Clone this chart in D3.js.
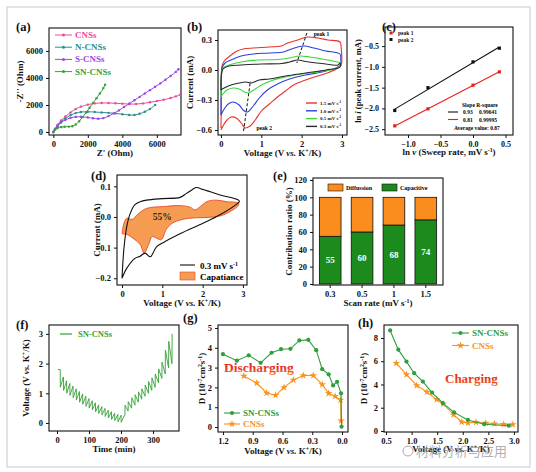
<!DOCTYPE html>
<html>
<head>
<meta charset="utf-8">
<script src="https://cdn.jsdelivr.net/npm/d3@7"></script>
<style>
body { margin: 0; background: #fff; }
svg text { font-family: "Liberation Serif", "DejaVu Serif", serif; font-weight: bold; }
</style>
</head>
<body>
<script>
// ---------- data ----------
// (a) Nyquist plots  [Z', -Z'']
const nyqCNS = [[0,0],[100,250],[250,550],[450,850],[700,1150],[1000,1450],[1300,1700],[1600,1880],[2000,2030],[2400,2120],[2800,2150],[3200,2150],[3600,2130],[4000,2100],[4400,2070],[4800,2070],[5200,2120],[5600,2200],[6000,2290],[6400,2390],[6800,2520],[7100,2640],[7350,2760]];
const nyqN = [[0,0],[100,200],[250,450],[450,750],[700,1000],[1000,1250],[1300,1400],[1600,1480],[2000,1500],[2400,1480],[2800,1450],[3200,1420],[3600,1380],[4000,1320],[4400,1260],[4700,1260],[5000,1350],[5300,1500],[5600,1700],[5900,2000]];
const nyqS = [[0,0],[100,200],[250,450],[450,700],[700,900],[1000,1050],[1300,1120],[1600,1130],[2000,1080],[2300,1020],[2600,980],[2900,1030],[3200,1180],[3500,1380],[3800,1600],[4100,1850],[4400,2100],[4700,2350],[5000,2600],[5300,2850],[5600,3100],[5900,3350],[6200,3600],[6500,3870],[6800,4150],[7100,4450],[7250,4650]];
const nyqSN = [[0,0],[100,180],[250,300],[450,370],[650,390],[900,400],[1100,430],[1300,560],[1500,800],[1700,1100],[1900,1450],[2100,1800],[2300,2150],[2500,2500],[2700,2850],[2900,3250],[3000,3500]];
const nyqNames = ["CNSs", "N-CNSs", "S-CNSs", "SN-CNSs"];

// (b) CV loops [V, mA]
const cv15 = [[0,-0.58],[0.01,-0.2],[0.02,0.03],[0.08,0.09],[0.22,0.14],[0.4,0.19],[0.55,0.21],[0.8,0.22],[1.2,0.23],[1.5,0.24],[1.65,0.27],[1.9,0.3],[2.15,0.33],[2.4,0.32],[2.65,0.3],[2.95,0.28],[2.98,0.22],[2.98,0.05],[2.9,0.02],[2.7,-0.02],[2.4,-0.06],[2.1,-0.1],[1.8,-0.15],[1.6,-0.21],[1.4,-0.27],[1.2,-0.34],[1.0,-0.41],[0.85,-0.5],[0.72,-0.56],[0.6,-0.58],[0.5,-0.53],[0.38,-0.48],[0.25,-0.47],[0.15,-0.5],[0.05,-0.56],[0,-0.6]];
const cv10 = [[0,-0.45],[0.01,-0.1],[0.03,0.02],[0.1,0.07],[0.25,0.1],[0.5,0.14],[0.8,0.16],[1.2,0.17],[1.55,0.18],[1.75,0.21],[2.05,0.24],[2.3,0.22],[2.6,0.19],[2.95,0.16],[2.97,0.1],[2.97,0.05],[2.85,0.02],[2.5,-0.02],[2.1,-0.05],[1.7,-0.09],[1.4,-0.14],[1.15,-0.2],[0.95,-0.28],[0.8,-0.36],[0.65,-0.42],[0.55,-0.4],[0.45,-0.35],[0.3,-0.32],[0.18,-0.34],[0.08,-0.39],[0,-0.45]];
const cv05 = [[0,-0.27],[0.01,-0.05],[0.05,0.02],[0.2,0.05],[0.5,0.08],[0.9,0.1],[1.4,0.105],[1.7,0.12],[1.95,0.14],[2.2,0.13],[2.5,0.11],[2.9,0.08],[2.96,0.07],[2.96,0.04],[2.8,0.01],[2.4,-0.02],[2.0,-0.04],[1.6,-0.07],[1.3,-0.1],[1.05,-0.14],[0.85,-0.19],[0.68,-0.23],[0.58,-0.22],[0.45,-0.19],[0.3,-0.18],[0.15,-0.2],[0.05,-0.24],[0,-0.27]];
const cv03 = [[0,-0.2],[0.01,-0.05],[0.05,0.01],[0.2,0.04],[0.5,0.05],[1.0,0.06],[1.5,0.065],[1.7,0.08],[1.9,0.1],[2.1,0.085],[2.5,0.065],[2.9,0.05],[2.95,0.07],[2.95,0.03],[2.6,0.0],[2.1,-0.03],[1.6,-0.06],[1.2,-0.09],[0.95,-0.1],[0.75,-0.13],[0.62,-0.12],[0.45,-0.13],[0.25,-0.15],[0.08,-0.18],[0,-0.2]];
const cvRates = ["1.5", "1.0", "0.5", "0.3"];
const peak1Guide = [[2.13,0.37],[1.88,0.07]];
const peak2Guide = [[0.56,-0.61],[0.73,-0.11]];

// (c) ln i vs ln v
const lnRate = [-1.204, -0.693, 0, 0.405];
const lnPeak1 = [-2.42, -2.01, -1.44, -1.12];
const lnPeak2 = [-2.05, -1.50, -0.88, -0.55];

// (d) CV at 0.3 mV/s and capacitive region
const cvD = [[0,-0.2],[0.05,-0.1],[0.12,-0.03],[0.2,0.01],[0.32,0.04],[0.45,0.05],[0.61,0.055],[1.0,0.06],[1.44,0.064],[1.6,0.077],[1.75,0.09],[1.85,0.096],[2.0,0.09],[2.1,0.086],[2.43,0.072],[2.89,0.055],[2.91,0.05],[2.89,0.047],[2.43,0.007],[2.02,-0.02],[1.44,-0.055],[1.03,-0.083],[0.86,-0.097],[0.78,-0.115],[0.7,-0.13],[0.57,-0.118],[0.45,-0.128],[0.32,-0.135],[0.12,-0.167],[0,-0.2]];
const capUpper = [[0,-0.055],[0.05,-0.02],[0.12,-0.004],[0.25,-0.008],[0.4,0.01],[0.61,0.028],[1.03,0.034],[1.44,0.037],[1.69,0.032],[1.81,0.023],[1.95,0.035],[2.1,0.05],[2.3,0.055],[2.6,0.05],[2.89,0.045]];
const capLower = [[2.89,0.038],[2.52,0.007],[2.27,0.0],[1.69,-0.004],[1.44,-0.01],[1.25,-0.02],[1.1,-0.04],[0.98,-0.074],[0.9,-0.072],[0.75,-0.064],[0.66,-0.09],[0.55,-0.118],[0.45,-0.09],[0.3,-0.072],[0.12,-0.057],[0,-0.055]];

// (e) contribution ratio
const scanRates = ["0.3", "0.5", "1", "1.5"];
const capacitive = [55, 60, 68, 74];
const diffusion = [45, 40, 32, 26];

// (f) GITT curve [min, V]
const gitt = [[3,1.8],[10,1.8],[10.5,1.2],[20,1.55],[20.5,1.1],[30,1.42],[30.5,1.0],[40,1.33],[40.5,0.93],[50,1.24],[50.5,0.85],[60,1.15],[60.5,0.77],[70,1.06],[70.5,0.7],[80,0.98],[80.5,0.63],[90,0.9],[90.5,0.56],[100,0.82],[100.5,0.5],[110,0.75],[110.5,0.44],[120,0.68],[120.5,0.38],[130,0.61],[130.5,0.32],[140,0.55],[140.5,0.27],[150,0.49],[150.5,0.22],[160,0.43],[160.5,0.17],[170,0.38],[170.5,0.12],[180,0.33],[180.5,0.08],[190,0.29],[190.5,0.04],[200,0.26],[200.5,0.02],[210,0.25],[212,0.25],[212.5,0.6],[222,0.4],[222.5,0.72],[233,0.5],[233.5,0.85],[243.5,0.6],[244,0.95],[254,0.7],[254.5,1.05],[264.5,0.8],[265,1.15],[275,0.9],[275.5,1.28],[285.5,1.0],[286,1.4],[296,1.1],[296.5,1.52],[306.5,1.2],[307,1.65],[317,1.35],[317.5,1.82],[327.5,1.5],[328,2.05],[338,1.65],[338.5,2.45],[348.5,1.85],[349,2.75],[359,2.0],[359.5,3.0]];

// (g) diffusion coefficient, discharging
const gVoltSN = [1.2, 1.06, 0.94, 0.82, 0.71, 0.615, 0.52, 0.43, 0.34, 0.26, 0.2, 0.135, 0.09, 0.05, 0.01, 0.005];
const gDSN = [3.68, 3.35, 3.62, 3.24, 3.75, 3.93, 3.95, 4.37, 4.4, 3.88, 2.92, 2.66, 2.1, 2.28, 1.7, 0.02];
const gVoltC = [0.99, 0.86, 0.76, 0.67, 0.585, 0.49, 0.39, 0.29, 0.2, 0.135, 0.07, 0.015, 0.01];
const gDC = [2.58, 2.22, 1.72, 1.6, 2.0, 2.37, 2.6, 2.6, 2.15, 1.7, 1.55, 1.37, 0.32];

// (h) diffusion coefficient, charging
const hVoltSN = [0.58, 0.74, 0.9, 1.05, 1.22, 1.4, 1.61, 1.83, 2.1, 2.42, 2.9];
const hDSN = [8.65, 7.0, 5.97, 4.97, 4.25, 3.3, 2.4, 1.6, 0.95, 0.58, 0.45];
const hVoltC = [0.7, 0.9, 1.1, 1.3, 1.49, 1.62, 1.82, 1.98, 2.1, 2.26, 2.45, 2.62, 2.8, 2.98];
const hDC = [5.83, 4.85, 3.92, 3.35, 2.7, 2.33, 1.4, 0.78, 0.68, 0.75, 0.68, 0.62, 0.58, 0.55];

// ---------- drawing ----------
const svg = d3.select("body").append("svg").attr("width", 536).attr("height", 472);

svg.append("rect").attr("x", 7).attr("y", 7).attr("width", 523).attr("height", 460)
   .attr("fill", "none").attr("stroke", "#c8c8c8");

const GREEN = "#2f9e3c", ORANGE = "#f7941d";
const f1 = d3.format(".1f");

// rich text: parts = [[text, style]]
function rich(sel, parts) {
  parts.forEach(p => {
    const t = sel.append("tspan").text(p[0]);
    if (p[1] === "i") t.style("font-style", "italic");
    if (p[1] === "sup") t.attr("baseline-shift", "super").style("font-size", "65%");
  });
  return sel;
}
const vsLabel = [["Voltage (V "], ["vs.", "i"], [" K"], ["+", "sup"], ["/K)"]];
const dLabel = [["D (10"], ["-7", "sup"], ["cm"], ["2", "sup"], ["s"], ["-1", "sup"], [")"]];

function frame(box, x, y, o) {
  const ax = o.band ? d3.axisBottom(x).tickSize(3).tickSizeOuter(0)
                    : d3.axisBottom(x).tickValues(o.xt).tickFormat(o.xf || d3.format("d")).tickSize(3).tickSizeOuter(0);
  const gx = svg.append("g").attr("transform", `translate(0,${box.y1})`).call(ax);
  const gy = svg.append("g").attr("transform", `translate(${box.x0},0)`)
    .call(d3.axisLeft(y).tickValues(o.yt).tickFormat(o.yf || d3.format("d")).tickSize(3).tickSizeOuter(0));
  [gx, gy].forEach(g => {
    g.select(".domain").remove();
    g.selectAll("text").attr("font-size", o.tf || 8.5).attr("fill", "#111");
    g.selectAll("line").attr("stroke", "#111");
  });
  svg.append("rect").attr("x", box.x0).attr("y", box.y0)
     .attr("width", box.x1 - box.x0).attr("height", box.y1 - box.y0)
     .attr("fill", "none").attr("stroke", "#111").attr("stroke-width", 1.1);
  // titles
  const xt = svg.append("text").attr("x", (box.x0 + box.x1) / 2).attr("y", o.xly)
     .attr("text-anchor", "middle").attr("font-size", 9).attr("fill", "#111");
  rich(xt, o.xl);
  const yt = svg.append("text").attr("transform", `translate(${o.ylx},${(box.y0 + box.y1) / 2}) rotate(-90)`)
     .attr("text-anchor", "middle").attr("font-size", o.ylf || 9).attr("fill", "#111");
  rich(yt, o.yl);
  svg.append("text").attr("x", o.lab[0]).attr("y", o.lab[1]).attr("font-size", 12.5)
     .attr("fill", "#111").text(o.lab[2]);
}

const line = (x, y) => d3.line().x(d => x(d[0])).y(d => y(d[1]));

// ----- (a)
const A = {x0: 49, x1: 181, y0: 28, y1: 135};
const xa = d3.scaleLinear().domain([-250, 7400]).range([A.x0, A.x1]);
const ya = d3.scaleLinear().domain([-220, 7700]).range([A.y1, A.y0]);
frame(A, xa, ya, {xt: [0, 2000, 4000, 6000], yt: [0, 2000, 4000, 6000],
  xl: [["Z' (Ohm)"]], xly: 156, yl: [["-Z'' (Ohm)"]], ylx: 23, lab: [16, 31, "(a)"]});
const nyqSets = [nyqCNS, nyqN, nyqS, nyqSN];
const nyqColors = ["#ec4a9c", "#2b8f8f", "#9d44e6", "#38a03a"];
nyqSets.forEach((s, i) => {
  svg.append("path").datum(s).attr("d", line(xa, ya).curve(d3.curveCatmullRom))
     .attr("fill", "none").attr("stroke", nyqColors[i]).attr("stroke-width", 1);
  svg.append("g").selectAll("circle").data(s).join("circle")
     .attr("cx", d => xa(d[0])).attr("cy", d => ya(d[1])).attr("r", 1.2).attr("fill", nyqColors[i]);
});
nyqNames.forEach((n, i) => {
  const yy = 35 + i * 12.2;
  svg.append("line").attr("x1", 55).attr("x2", 72).attr("y1", yy).attr("y2", yy)
     .attr("stroke", nyqColors[i]).attr("stroke-width", 1);
  svg.append("circle").attr("cx", 63.5).attr("cy", yy).attr("r", 1.5).attr("fill", nyqColors[i]);
  svg.append("text").attr("x", 75).attr("y", yy + 3).attr("font-size", 9)
     .attr("fill", nyqColors[i]).text(n);
});

// ----- (b)
const B = {x0: 218, x1: 347, y0: 30, y1: 135};
const xb = d3.scaleLinear().domain([-0.074, 3.124]).range([B.x0, B.x1]);
const yb = d3.scaleLinear().domain([-0.65, 0.4]).range([B.y1, B.y0]);
frame(B, xb, yb, {xt: [0, 1, 2, 3], yt: [-0.6, -0.3, 0, 0.3], yf: f1,
  xl: vsLabel, xly: 156, yl: [["Current (mA)"]], ylx: 193, lab: [187, 31, "(b)"]});
const cvSets = [cv15, cv10, cv05, cv03];
const cvColors = ["#e8322c", "#2a3fdc", "#3cd63c", "#2a2a2a"];
cvSets.forEach((s, i) => {
  svg.append("path").datum(s).attr("d", line(xb, yb).curve(d3.curveCatmullRom.alpha(0.5)))
     .attr("fill", "none").attr("stroke", cvColors[i]).attr("stroke-width", 1.1);
});
[peak1Guide, peak2Guide].forEach(g => {
  svg.append("path").datum(g).attr("d", line(xb, yb)).attr("stroke", "#111")
     .attr("stroke-width", 1).attr("stroke-dasharray", "3,2").attr("fill", "none");
});
svg.append("text").attr("x", xb(2.3)).attr("y", yb(0.345)).attr("font-size", 5.5).text("peak 1");
svg.append("text").attr("x", xb(0.88)).attr("y", yb(-0.6)).attr("font-size", 5.5).text("peak 2");
cvRates.forEach((r, i) => {
  const yy = 103 + i * 7.8;
  svg.append("line").attr("x1", 306).attr("x2", 317).attr("y1", yy).attr("y2", yy)
     .attr("stroke", cvColors[i]).attr("stroke-width", 1.4);
  const t = svg.append("text").attr("x", 320).attr("y", yy + 1.8).attr("font-size", 5).attr("fill", "#111");
  rich(t, [[r + " mV s"], ["-1", "sup"]]);
});

// ----- (c)
const C = {x0: 385, x1: 513, y0: 27, y1: 135};
const xc = d3.scaleLinear().domain([-1.354, 0.615]).range([C.x0, C.x1]);
const yc = d3.scaleLinear().domain([-2.64, -0.04]).range([C.y1, C.y0]);
frame(C, xc, yc, {xt: [-1, -0.5, 0, 0.5], xf: f1, yt: [-2.5, -2, -1.5, -1, -0.5], yf: f1, tf: 8,
  xl: [["ln "], ["v", "i"], [" (Sweep rate, mV s"], ["-1", "sup"], [")"]], xly: 155,
  yl: [["ln "], ["i", "i"], [" (peak current, mA)"]], ylx: 361, ylf: 8.5, lab: [382, 31, "(c)"]});
function fitLine(xs, ys) {
  const mx = d3.mean(xs), my = d3.mean(ys);
  const k = d3.sum(xs, (x, i) => (x - mx) * (ys[i] - my)) / d3.sum(xs, x => (x - mx) ** 2);
  return [[xs[0], my + k * (xs[0] - mx)], [xs[xs.length - 1], my + k * (xs[xs.length - 1] - mx)]];
}
[[lnPeak1, "#e8201c"], [lnPeak2, "#111"]].forEach(([ys, col]) => {
  svg.append("path").datum(fitLine(lnRate, ys)).attr("d", line(xc, yc))
     .attr("stroke", col).attr("stroke-width", 1.1).attr("fill", "none");
  svg.append("g").selectAll("rect").data(ys).join("rect")
     .attr("x", (d, i) => xc(lnRate[i]) - 1.6).attr("y", d => yc(d) - 1.6)
     .attr("width", 3.2).attr("height", 3.2).attr("fill", col);
});
[["peak 1", "#e8201c"], ["peak 2", "#111"]].forEach(([n, col], i) => {
  const yy = 33 + i * 6.5;
  svg.append("rect").attr("x", 389.5).attr("y", yy - 1.5).attr("width", 3).attr("height", 3).attr("fill", col);
  svg.append("text").attr("x", 398).attr("y", yy + 2).attr("font-size", 5.5).attr("fill", "#111").text(n);
});
svg.append("text").attr("x", 462).attr("y", 107).attr("font-size", 5.5).text("Slope  R-square");
[["0.93", "0.99641", "#111"], ["0.81", "0.99995", "#e8201c"]].forEach(([s, r, col], i) => {
  const yy = 112 + i * 7.5;
  svg.append("line").attr("x1", 448).attr("x2", 458).attr("y1", yy).attr("y2", yy)
     .attr("stroke", col).attr("stroke-width", 1.1);
  svg.append("text").attr("x", 463).attr("y", yy + 2).attr("font-size", 5.5).text(s);
  svg.append("text").attr("x", 479).attr("y", yy + 2).attr("font-size", 5.5).text(r);
});
svg.append("text").attr("x", 454).attr("y", 130).attr("font-size", 5.5).text("Average value: 0.87");

// ----- (d)
const Dp = {x0: 117, x1: 247, y0: 175, y1: 285};
const xd = d3.scaleLinear().domain([-0.124, 3.1]).range([Dp.x0, Dp.x1]);
const yd = d3.scaleLinear().domain([-0.222, 0.137]).range([Dp.y1, Dp.y0]);
frame(Dp, xd, yd, {xt: [0, 1, 2, 3], yt: [-0.2, -0.1, 0, 0.1], yf: f1,
  xl: vsLabel, xly: 306, yl: [["Current (mA)"]], ylx: 100, lab: [91, 180, "(d)"]});
svg.append("path").datum(capUpper.concat(capLower))
   .attr("d", line(xd, yd).curve(d3.curveCatmullRomClosed.alpha(0.5)))
   .attr("fill", "#f59b52").attr("stroke", "#e8482a").attr("stroke-width", 0.9);
svg.append("path").datum(cvD).attr("d", line(xd, yd).curve(d3.curveCatmullRom.alpha(0.5)))
   .attr("fill", "none").attr("stroke", "#111").attr("stroke-width", 1.1);
svg.append("text").attr("x", xd(1.0)).attr("y", yd(-0.01)).attr("text-anchor", "middle")
   .attr("font-size", 9.5).attr("fill", "#3a2a10").text("55%");
svg.append("line").attr("x1", 180).attr("x2", 195).attr("y1", 265).attr("y2", 265)
   .attr("stroke", "#111").attr("stroke-width", 1.1);
rich(svg.append("text").attr("x", 200).attr("y", 268.5).attr("font-size", 9), [["0.3 mV s"], ["-1", "sup"]]);
svg.append("rect").attr("x", 180).attr("y", 272).attr("width", 15).attr("height", 8)
   .attr("fill", "#f59b52").attr("stroke", "#e8482a").attr("stroke-width", 0.6);
svg.append("text").attr("x", 200).attr("y", 279.5).attr("font-size", 9).text("Capatiance");

// ----- (e)
const E = {x0: 313, x1: 443, y0: 178, y1: 285};
const xe = d3.scaleBand().domain(scanRates).range([E.x0, E.x1]).paddingInner(0.32).paddingOuter(0.2);
const ye = d3.scaleLinear().domain([-1.2, 122.3]).range([E.y1, E.y0]);
svg.append("g").selectAll("rect").data(scanRates).join("rect")
   .attr("x", d => xe(d)).attr("width", xe.bandwidth())
   .attr("y", (d, i) => ye(capacitive[i])).attr("height", (d, i) => ye(0) - ye(capacitive[i]))
   .attr("fill", "#1c8a1c").attr("stroke", "#111").attr("stroke-width", 0.8);
svg.append("g").selectAll("rect").data(scanRates).join("rect")
   .attr("x", d => xe(d)).attr("width", xe.bandwidth())
   .attr("y", (d, i) => ye(capacitive[i] + diffusion[i])).attr("height", (d, i) => ye(capacitive[i]) - ye(capacitive[i] + diffusion[i]))
   .attr("fill", "#fb8c1e").attr("stroke", "#111").attr("stroke-width", 0.8);
svg.append("g").selectAll("text").data(scanRates).join("text")
   .attr("x", d => xe(d) + xe.bandwidth() / 2).attr("y", (d, i) => ye(capacitive[i] / 2) + 3)
   .attr("text-anchor", "middle").attr("font-size", 9).attr("fill", "#fff").text((d, i) => capacitive[i]);
frame(E, xe, ye, {band: true, yt: [0, 20, 40, 60, 80, 100, 120],
  xl: [["Scan rate (mV s"], ["-1", "sup"], [")"]], xly: 306, yl: [["Contribution ratio (%)"]], ylx: 292, lab: [273, 180, "(e)"]});
[["Diffussion", "#fb8c1e", 328], ["Capacitive", "#1c8a1c", 382]].forEach(([n, col, x]) => {
  svg.append("rect").attr("x", x).attr("y", 184).attr("width", 15).attr("height", 7)
     .attr("fill", col).attr("stroke", "#111").attr("stroke-width", 0.6);
  svg.append("text").attr("x", x + 18).attr("y", 190).attr("font-size", 6).text(n);
});

// ----- (f)
const F = {x0: 49, x1: 179, y0: 325, y1: 431};
const xf = d3.scaleLinear().domain([-25, 381]).range([F.x0, F.x1]);
const yf = d3.scaleLinear().domain([-0.27, 3.3]).range([F.y1, F.y0]);
frame(F, xf, yf, {xt: [0, 100, 200, 300], yt: [0, 1, 2, 3],
  xl: [["Time (min)"]], xly: 452, yl: vsLabel, ylx: 29, lab: [16, 329, "(f)"]});
svg.append("path").datum(gitt).attr("d", line(xf, yf))
   .attr("fill", "none").attr("stroke", "#35a035").attr("stroke-width", 0.9);
svg.append("line").attr("x1", 60).attr("x2", 72).attr("y1", 334).attr("y2", 334)
   .attr("stroke", "#35a035").attr("stroke-width", 1.2);
svg.append("text").attr("x", 78).attr("y", 337).attr("font-size", 8.5).attr("fill", "#35a035").text("SN-CNSs");

// gradient for the big words
const grad = svg.append("defs").append("linearGradient").attr("id", "warm")
   .attr("x1", 0).attr("y1", 0).attr("x2", 0).attr("y2", 1);
grad.append("stop").attr("offset", "0%").attr("stop-color", "#e01818");
grad.append("stop").attr("offset", "55%").attr("stop-color", "#e8341e");
grad.append("stop").attr("offset", "100%").attr("stop-color", "#f07a28");

function diffPanel(box, x, y, sets, o) {
  frame(box, x, y, o);
  sets.forEach(s => {
    const pts = s.xs.map((v, i) => [v, s.ys[i]]);
    svg.append("path").datum(pts).attr("d", line(x, y))
       .attr("fill", "none").attr("stroke", s.col).attr("stroke-width", 1.1);
    const sym = d3.symbol().type(s.star ? d3.symbolStar : d3.symbolCircle).size(s.star ? 18 : 14);
    svg.append("g").selectAll("path").data(pts).join("path")
       .attr("transform", d => `translate(${x(d[0])},${y(d[1])})`).attr("d", sym).attr("fill", s.col);
  });
}

// ----- (g)
const G = {x0: 218, x1: 348, y0: 325, y1: 432};
const xg = d3.scaleLinear().domain([1.25, -0.06]).range([G.x0, G.x1]);
const yg = d3.scaleLinear().domain([-0.25, 5.15]).range([G.y1, G.y0]);
diffPanel(G, xg, yg, [{xs: gVoltC, ys: gDC, col: ORANGE, star: true}, {xs: gVoltSN, ys: gDSN, col: GREEN}],
  {xt: [1.2, 0.9, 0.6, 0.3, 0], xf: f1, yt: [0, 1, 2, 3, 4, 5],
   xl: vsLabel, xly: 454, yl: dLabel, ylx: 205, lab: [183, 322, "(g)"]});
svg.append("text").attr("x", 224).attr("y", 372).attr("font-size", 13.5).attr("fill", "url(#warm)").text("Discharging");
[["SN-CNSs", GREEN, 413, false], ["CNSs", ORANGE, 424, true]].forEach(([n, col, yy, star]) => {
  svg.append("line").attr("x1", 224).attr("x2", 240).attr("y1", yy).attr("y2", yy).attr("stroke", col).attr("stroke-width", 1.1);
  svg.append("path").attr("transform", `translate(232,${yy})`)
     .attr("d", d3.symbol().type(star ? d3.symbolStar : d3.symbolCircle).size(star ? 18 : 14)).attr("fill", col);
  svg.append("text").attr("x", 243).attr("y", yy + 3).attr("font-size", 9).attr("fill", col).text(n);
});

// ----- (h)
const Hh = {x0: 384, x1: 518, y0: 325, y1: 432};
const xh = d3.scaleLinear().domain([0.46, 3.08]).range([Hh.x0, Hh.x1]);
const yh = d3.scaleLinear().domain([-0.09, 9.12]).range([Hh.y1, Hh.y0]);
diffPanel(Hh, xh, yh, [{xs: hVoltC, ys: hDC, col: ORANGE, star: true}, {xs: hVoltSN, ys: hDSN, col: GREEN}],
  {xt: [0.5, 1, 1.5, 2, 2.5, 3], xf: f1, yt: [0, 2, 4, 6, 8],
   xl: vsLabel, xly: 452, yl: dLabel, ylx: 367, lab: [358, 327, "(h)"]});
svg.append("text").attr("x", 445).attr("y", 383).attr("font-size", 13).attr("fill", "url(#warm)").text("Charging");
[["SN-CNSs", GREEN, 333, false], ["CNSs", ORANGE, 345.5, true]].forEach(([n, col, yy, star]) => {
  svg.append("line").attr("x1", 452).attr("x2", 469).attr("y1", yy).attr("y2", yy).attr("stroke", col).attr("stroke-width", 1.1);
  svg.append("path").attr("transform", `translate(460.5,${yy})`)
     .attr("d", d3.symbol().type(star ? d3.symbolStar : d3.symbolCircle).size(star ? 18 : 14)).attr("fill", col);
  svg.append("text").attr("x", 472).attr("y", yy + 3).attr("font-size", 9).attr("fill", col).text(n);
});

// watermark (sits over the (h) axis title, as in the source image)
svg.append("circle").attr("cx", 408).attr("cy", 451).attr("r", 5).attr("fill", "none")
   .attr("stroke", "#aaa").attr("stroke-width", 1);
svg.append("text").attr("x", 416).attr("y", 456).attr("font-size", 13)
   .style("font-family", "'Noto Sans CJK SC', sans-serif").style("font-weight", "normal")
   .attr("fill", "#999").attr("fill-opacity", 0.8).text("材料分析与应用");
</script>
</body>
</html>
